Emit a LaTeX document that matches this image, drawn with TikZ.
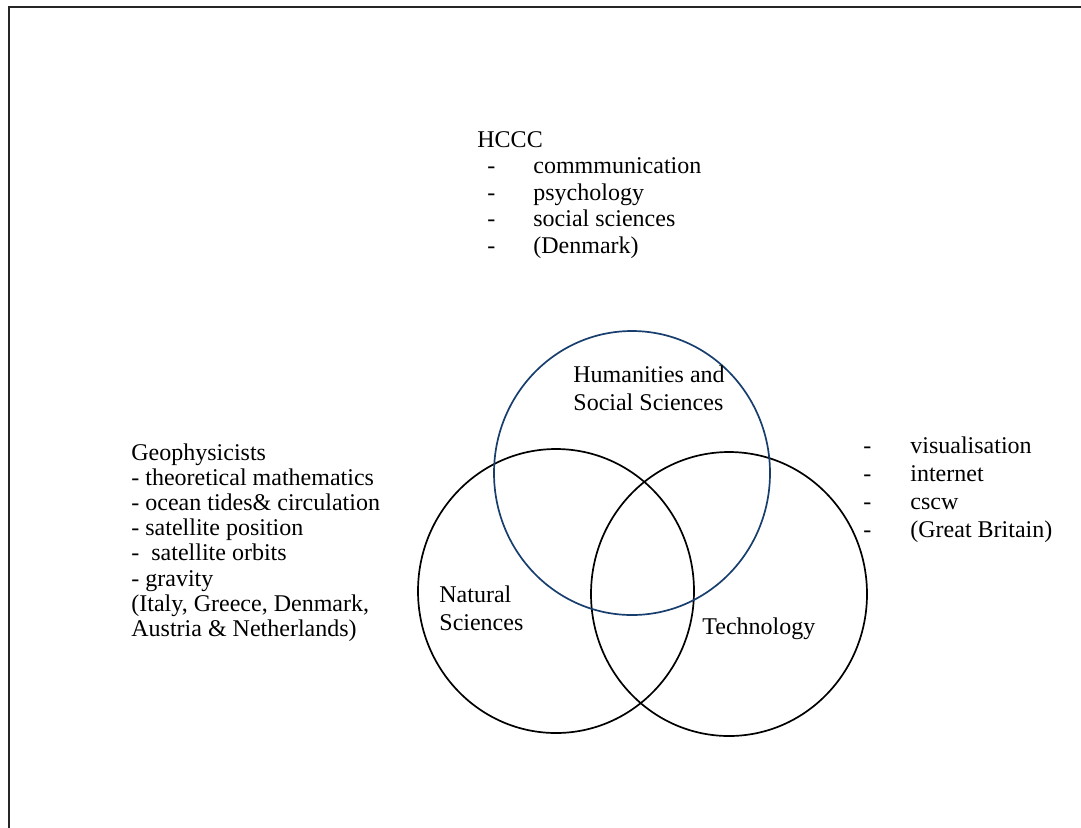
\documentclass[tikz,border=0pt]{standalone}
\usepackage{fontspec}
\setmainfont{Liberation Serif}
\usetikzlibrary{shapes.geometric}
\definecolor{hssblue}{RGB}{24,62,110}
\newcommand{\hdash}[1]{\hspace*{5pt}\makebox[23pt][l]{-}#1}
\newcommand{\tdash}[1]{\makebox[23.5pt][l]{-}#1}

\begin{document}
\begin{tikzpicture}[x=0.5pt,y=-0.5pt,
  venn/.style={ellipse,draw,line width=0.85pt,minimum width=138pt,minimum height=142pt,inner sep=0pt},
  txt/.style={anchor=base west,inner sep=0pt,font=\fontsize{12}{14.15}\selectfont}]
\useasboundingbox (0,0) rectangle (1081,827);
\draw[line width=0.7pt,black!85] (9,840) -- (9,7) -- (1095,7);
% the three fields
\node [venn] (nat) at (556,591) {};
\node [venn] (tech) at (729,594) {};
\node [venn,draw=hssblue] (hss) at (632,473) {};
\node [txt] (hsslabel) at (573,382) {\begin{tabular}[t]{@{}l@{}}Humanities and\\Social Sciences\end{tabular}};
\node [txt] (natlabel) at (439,602) {\begin{tabular}[t]{@{}l@{}}Natural\\Sciences\end{tabular}};
\node [txt] (techlabel) at (702,634) {Technology};
% the partners
\node [txt,font=\fontsize{12}{13.25}\selectfont] (hccc) at (477,147) {\begin{tabular}[t]{@{}l@{}}HCCC\\
  \hdash{commmunication}\\ \hdash{psychology}\\ \hdash{social sciences}\\ \hdash{(Denmark)}\end{tabular}};
\node [txt,font=\fontsize{12}{12.62}\selectfont] (geo) at (131,460) {\begin{tabular}[t]{@{}l@{}}Geophysicists\\
  - theoretical mathematics\\ - ocean tides\& circulation\\ - satellite position\\ -\ \ satellite orbits\\
  - gravity\\ (Italy, Greece, Denmark,\\ Austria \& Netherlands)\end{tabular}};
\node [txt,font=\fontsize{12}{14.1}\selectfont] (gb) at (863,453) {\begin{tabular}[t]{@{}l@{}}\tdash{visualisation}\\
  \tdash{internet}\\ \tdash{cscw}\\ \tdash{(Great Britain)}\end{tabular}};
\end{tikzpicture}
\end{document}
